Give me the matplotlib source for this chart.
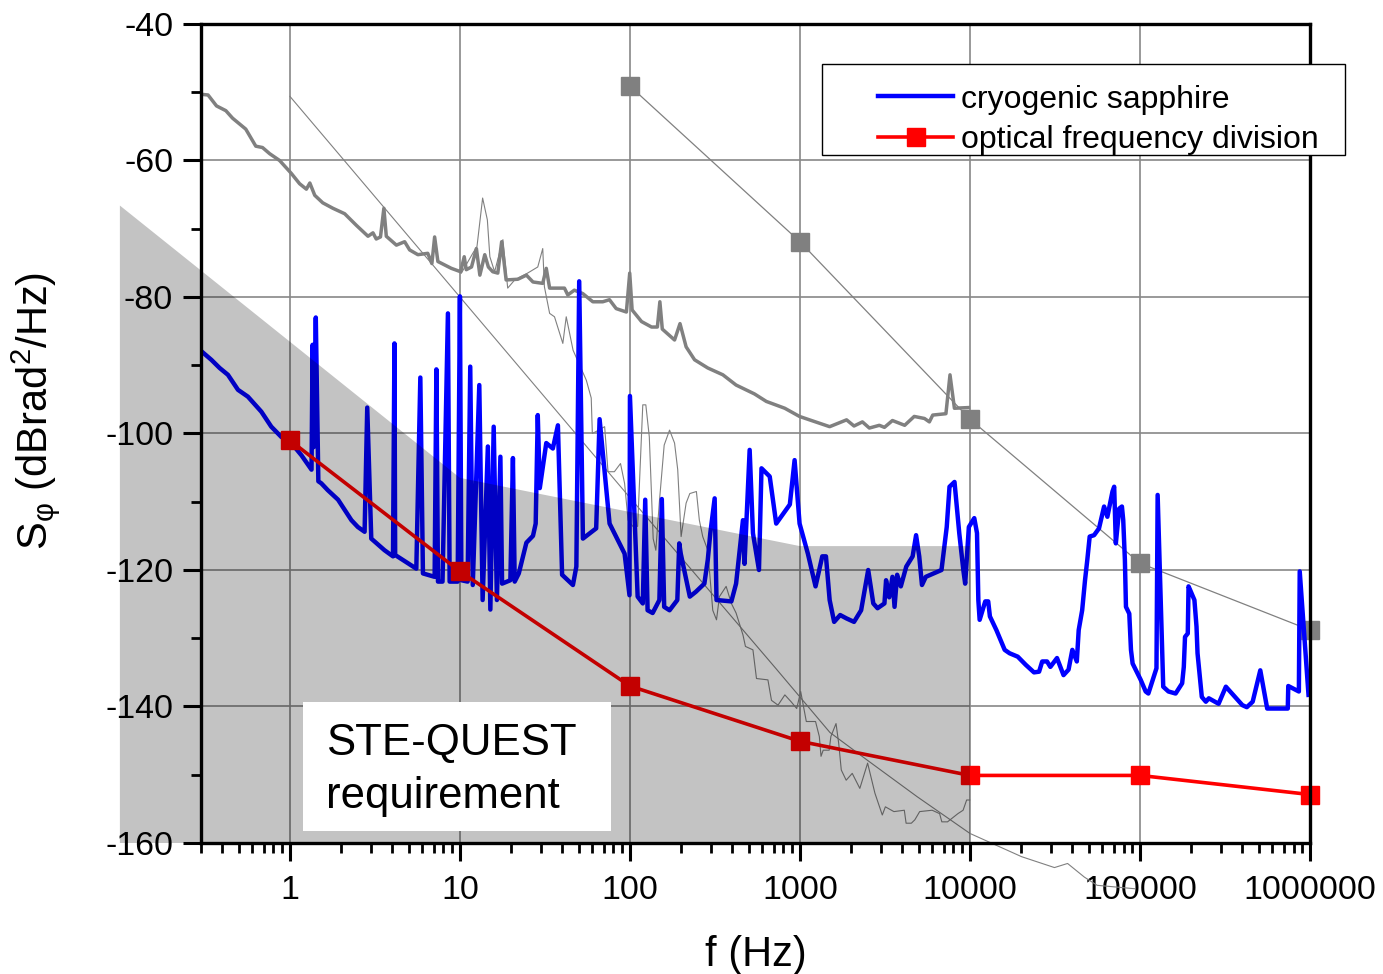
import matplotlib
matplotlib.use('Agg')
import matplotlib.pyplot as plt
from matplotlib.patches import Rectangle
from matplotlib.ticker import LogLocator, NullFormatter, MultipleLocator

plt.rcParams['font.family'] = 'Liberation Sans'
plt.rcParams['axes.unicode_minus'] = False

# cryogenic sapphire
sapphire_f = [0.3, 0.345, 0.386, 0.432, 0.495, 0.566, 0.679, 0.777, 0.89, 1.02, 1.17, 1.34, 1.36, 1.38, 1.42,
              1.47, 1.53, 1.67, 1.92, 2.3, 2.51, 2.75, 2.85, 3.01, 3.6, 4.04, 4.12, 4.16, 5.54, 5.85, 6.06, 7.1,
              7.27, 7.43, 7.9, 8.5, 8.7, 9.7, 10.0, 10.2, 11.1, 11.5, 11.9, 13.0, 13.6, 14.6, 15.1, 15.8, 16.5,
              17.3, 17.7, 19.8, 20.5, 21.0, 22.2, 24.6, 26.9, 27.9, 28.7, 29.5, 32.2, 35.2, 37.7, 39.9, 46.2,
              48.4, 50.3, 52.9, 63.3, 66.3, 75.9, 93, 99.4, 100, 111, 119, 123, 127, 136, 149, 154, 159, 171,
              190, 195, 199, 225, 244, 274, 287, 297, 315, 323, 395, 421, 462, 472, 506, 529, 574, 594, 664,
              725, 872, 930, 995, 1113, 1235, 1353, 1422, 1495, 1589, 1724, 1880, 2080, 2290, 2520, 2700, 2860,
              3140, 3210, 3350, 3500, 3600, 3730, 3920, 4220, 4600, 4820, 5030, 5220, 5500, 6800, 7300, 7580,
              8110, 8650, 9140, 9370, 9850, 10600, 11000, 11200, 11400, 12300, 12800, 13100, 14300, 16000,
              17100, 19100, 21300, 23800, 25500, 26600, 28400, 29700, 32500, 35500, 38000, 40000, 42500, 43600,
              45700, 47500, 49000, 50600, 53700, 57400, 61500, 64300, 68900, 70500, 72100, 75500, 78300, 79700,
              81500, 82700, 86500, 88500, 90500, 101000, 108000, 112000, 125000, 127000, 137000, 147000, 162000,
              177000, 181000, 184000, 191000, 193000, 197000, 209000, 215000, 218000, 231000, 244000, 254000,
              290000, 320000, 400000, 425000, 460000, 510000, 560000, 740000, 745000, 860000, 870000, 980000]
sapphire_db = [-87.9, -89.2, -90.4, -91.4, -93.6, -94.6, -96.8, -99.0, -100.5, -101.4, -103.2, -105.3, -87.0,
               -102.0, -83.0, -107.0, -107.3, -108.3, -109.7, -112.7, -113.7, -114.4, -96.2, -115.4, -117.1,
               -118.0, -86.8, -117.8, -119.8, -91.8, -120.5, -121.0, -90.6, -121.7, -121.7, -82.4, -121.7,
               -121.7, -79.9, -121.5, -121.7, -90.2, -122.2, -92.9, -124.4, -101.9, -125.8, -99.0, -124.4,
               -103.4, -122.0, -121.5, -103.6, -121.7, -120.5, -116.0, -115.0, -113.2, -97.3, -108.0, -101.4,
               -102.2, -98.8, -120.7, -122.2, -119.5, -77.7, -115.4, -113.9, -97.9, -113.2, -117.6, -123.7,
               -94.5, -123.9, -124.9, -109.7, -125.9, -126.3, -124.4, -109.6, -125.4, -125.9, -124.4, -116.1,
               -117.6, -123.9, -123.2, -122.0, -118.5, -114.6, -109.5, -124.4, -124.6, -122.0, -112.7, -119.1,
               -102.4, -114.6, -120.0, -105.1, -106.3, -113.2, -110.4, -103.9, -113.2, -117.6, -122.4, -118.0,
               -118.0, -124.4, -127.6, -126.6, -127.1, -127.6, -125.9, -120.0, -124.9, -125.6, -124.9, -121.5,
               -124.0, -121.0, -125.4, -120.7, -122.4, -119.5, -118.0, -114.9, -118.0, -122.2, -121.0, -120.0,
               -113.7, -107.8, -107.1, -114.6, -120.0, -122.0, -113.7, -112.4, -114.6, -124.4, -127.3, -124.6,
               -124.6, -126.8, -128.8, -131.7, -132.2, -132.7, -133.9, -135.0, -134.9, -133.4, -133.4, -134.2,
               -132.9, -135.4, -134.6, -131.7, -133.4, -128.8, -125.9, -121.5, -118.5, -115.1, -114.9, -113.9,
               -110.7, -112.2, -108.5, -107.8, -116.1, -111.0, -110.7, -112.7, -118.5, -125.4, -126.4, -131.7,
               -133.7, -136.1, -137.8, -138.1, -134.4, -109.0, -137.1, -137.8, -138.1, -136.6, -134.2, -129.8,
               -129.3, -122.4, -122.9, -124.4, -128.3, -132.2, -138.6, -139.3, -138.8, -139.6, -137.1, -139.8,
               -140.1, -139.3, -134.7, -140.3, -140.3, -137.0, -137.8, -120.2, -138.3]

# optical frequency division
ofd_f = [1, 10, 100, 1000, 10000, 100000, 1000000]
ofd_db = [-101.0, -120.2, -137.0, -145.1, -150.1, -150.1, -152.9]

# grey reference curves
sq_f = [100, 1000, 10000, 100000, 1000000]
sq_db = [-49.1, -71.9, -97.9, -119.0, -128.8]

thick_f = [0.3, 0.33, 0.37, 0.42, 0.46, 0.55, 0.63, 0.69, 0.76, 0.87, 1.02, 1.14, 1.25, 1.31, 1.40, 1.56, 1.79,
           2.1, 2.46, 2.88, 3.08, 3.22, 3.41, 3.57, 3.69, 4.23, 4.73, 5.06, 5.66, 6.47, 6.84, 7.1, 7.42, 8.9,
           10.1, 10.6, 10.9, 11.7, 12.5, 13.1, 14.0, 14.7, 15.6, 16.7, 17.6, 18.7, 21.9, 24.6, 26.9, 30.7,
           32.2, 33.7, 41.2, 43.1, 47.1, 52.8, 60.5, 69.2, 75.8, 83, 95.3, 99.7, 103, 117, 134, 145, 150, 155,
           183, 197, 214, 240, 287, 352, 421, 540, 634, 814, 994, 1138, 1495, 1880, 2080, 2330, 2560, 2930,
           3140, 3500, 4130, 4700, 5400, 5770, 6040, 7220, 7630, 8100, 9800]
thick_db = [-50.3, -50.4, -52.0, -52.7, -53.8, -55.4, -57.9, -58.1, -59.0, -60.0, -61.9, -63.4, -64.2, -63.3,
            -65.1, -66.2, -67.0, -67.8, -69.5, -71.1, -70.6, -71.5, -71.2, -67.0, -71.1, -72.4, -71.9, -73.1,
            -73.8, -73.6, -75.1, -71.2, -74.8, -75.8, -76.3, -74.1, -76.0, -75.6, -72.9, -76.8, -73.8, -75.6,
            -76.3, -76.5, -71.9, -77.5, -77.4, -76.8, -77.8, -78.0, -75.8, -78.7, -78.7, -79.7, -79.0, -79.5,
            -80.7, -80.7, -80.4, -81.7, -82.2, -76.5, -81.9, -83.6, -84.4, -84.4, -80.7, -84.7, -86.3, -83.9,
            -87.3, -89.2, -90.4, -91.4, -92.9, -94.2, -95.3, -96.3, -97.5, -98.0, -99.0, -98.0, -98.9, -98.3,
            -99.2, -98.8, -99.1, -98.1, -98.8, -97.5, -97.8, -98.3, -97.3, -97.1, -91.4, -96.3, -96.2]

thin_f = [10.2, 11.9, 12.6, 13.6, 14.5, 15, 16, 17.9, 19.1, 21, 25, 28.7, 30.7, 31.4, 33.7, 36, 40.3, 42.2,
          46.3, 55.4, 59.2, 60.1, 63.3, 71, 74.3, 81, 88, 93, 97.5, 104, 111, 119, 124, 130, 137, 142, 149,
          159, 171, 183, 191, 200, 214, 225, 246, 256, 268, 287, 307, 323, 336, 368, 395, 421, 462, 478, 529,
          555, 648, 680, 743, 815, 887, 957, 1010, 1090, 1235, 1300, 1330, 1370, 1485, 1520, 1630, 1690,
          1750, 1870, 2030, 2250, 2500, 2760, 3050, 3180, 3570, 4110, 4210, 4520, 4740, 5060, 5990, 6630,
          6830, 7380, 8490, 9110, 9560, 10000]
thin_db = [-76.5, -73.6, -72.6, -65.5, -68.7, -74.1, -76.3, -71.6, -78.7, -77.5, -76.5, -75.6, -72.9, -78.5,
           -82.4, -82.9, -86.8, -82.9, -87.8, -92.2, -94.8, -100.0, -99.7, -99.0, -105.6, -105.6, -104.4,
           -107.3, -112.7, -113.6, -113.6, -95.8, -95.8, -100.5, -115.4, -117.1, -110.0, -101.7, -99.5,
           -101.4, -105.3, -115.1, -110.2, -108.8, -108.5, -112.7, -115.1, -117.1, -125.9, -127.3, -123.9,
           -122.4, -124.9, -126.3, -129.5, -131.2, -131.7, -135.9, -136.1, -139.1, -139.8, -138.3, -139.3,
           -140.3, -137.8, -142.2, -142.2, -144.4, -147.3, -146.4, -146.4, -144.4, -142.5, -145.4, -149.3,
           -150.8, -149.8, -152.0, -148.3, -152.7, -155.9, -154.7, -155.4, -155.2, -157.1, -157.1, -156.6,
           -155.4, -155.2, -155.7, -156.9, -156.9, -155.7, -155.2, -153.7, -153.7]

model_f = [1, 10, 100, 720, 1500, 2500, 4880, 10000, 20100, 31400, 37500, 47100, 56000, 93000]
model_db = [-50.6, -80.0, -109.4, -134.4, -143.8, -147.9, -153.2, -158.6, -162.0, -163.6, -163.0, -165.0,
            -166.2, -166.7]

# STE-QUEST requirement
req_f = [0.1, 10, 1000, 10000, 10000, 0.1]
req_db = [-66.6, -106.5, -116.5, -116.5, -160, -160]

xticks = [1, 10, 100, 1000, 10000, 100000, 1000000]
xlabels = ['1', '10', '100', '1000', '10000', '100000', '1000000']

fig = plt.figure(figsize=(13.83, 9.74), dpi=100)
ax = fig.add_axes([0.14534, 0.13450, 0.80188, 0.84086])
ax.set_xscale('log')

ax.plot(thick_f, thick_db, color='#808080', lw=2.5, zorder=2)
ax.plot(thin_f, thin_db, color='#808080', lw=0.8, zorder=2)
ax.plot(model_f, model_db, color='#808080', lw=0.8, zorder=2, clip_on=False)
ax.plot(sq_f, sq_db, color='#808080', lw=0.9, marker='s', ms=13, zorder=2, clip_on=False)
blue, = ax.plot(sapphire_f, sapphire_db, color='#0000FF', lw=3.2, zorder=2.1, label='cryogenic sapphire')
red, = ax.plot(ofd_f, ofd_db, color='#FF0000', lw=2.6, marker='s', ms=13, zorder=2.2, clip_on=False,
               label='optical frequency division')

ax.fill(req_f, req_db, color='black', alpha=0.235, lw=0, zorder=3, clip_on=False)

ax.set_xlim(0.3, 1000000)
ax.set_ylim(-160, -40)
ax.set_xticks(xticks)
ax.set_xticklabels(xlabels)
ax.xaxis.set_minor_locator(LogLocator(base=10, subs=[2, 3, 4, 5, 6, 7, 8, 9], numticks=30))
ax.xaxis.set_minor_formatter(NullFormatter())
ax.yaxis.set_major_locator(MultipleLocator(20))
ax.yaxis.set_minor_locator(MultipleLocator(10))

ax.set_axisbelow(True)
ax.grid(True, which='major', color='#888888', lw=1.2)
for s in ax.spines.values():
    s.set_linewidth(2.4)
ax.tick_params(which='major', direction='out', length=13, width=2.2, labelsize=24.5, top=False, right=False)
ax.tick_params(which='minor', direction='out', length=7.5, width=2.0, top=False, right=False)
ax.tick_params(axis='x', which='major', pad=10)
ax.tick_params(axis='y', which='major', pad=7)

ax.set_xlabel('f (Hz)', fontsize=30)
ax.xaxis.set_label_coords(0.5, -0.112)
ax.xaxis.label.set_va('top')
ax.set_ylabel('S$_\\mathregular{φ}$ (dBrad$^\\mathregular{2}$/Hz)', fontsize=30)
ax.yaxis.set_label_coords(-0.125, 0.527)

# text box
ax.add_patch(Rectangle((0.092, 0.0147), 0.2777, 0.1573, transform=ax.transAxes, fc='white', ec='none',
                       zorder=5, clip_on=False))
ax.text(0.1127, 0.1074, 'STE-QUEST', transform=ax.transAxes, fontsize=31.5, va='baseline', zorder=6)
ax.text(0.1127, 0.0427, 'requirement', transform=ax.transAxes, fontsize=31.5, va='baseline', zorder=6)

# legend box
ax.add_patch(Rectangle((0.560, 0.8404), 0.4716, 0.1104, transform=ax.transAxes, fc='white', ec='black',
                       lw=1.0, zorder=6, clip_on=False))
leg = ax.legend(handles=[blue, red], loc='upper left', bbox_to_anchor=(0.6105, 0.926), frameon=False,
                borderpad=0, borderaxespad=0, handlelength=2.35, handletextpad=0.25, labelspacing=0.32,
                fontsize=23)
leg.set_zorder(7)

fig.savefig('out.png', dpi=100)
